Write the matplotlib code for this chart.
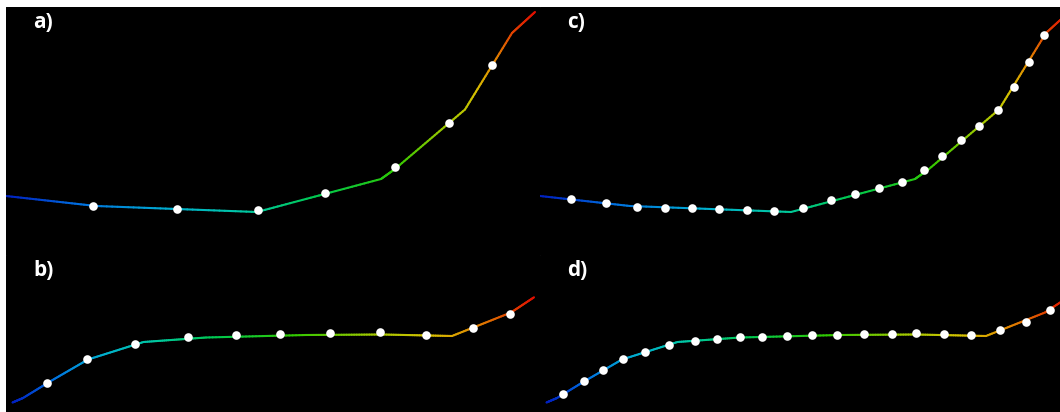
import matplotlib.pyplot as plt
import numpy as np
from matplotlib.collections import LineCollection
from matplotlib.colors import LinearSegmentedColormap

# panel-local coordinates, measured in pixels from each panel's top-left corner
top_curve_x = [0, 90, 251, 375, 389, 459, 506, 529]
top_curve_y = [189, 199, 205, 172, 162, 102.5, 26, 5]

bottom_curve_x = [6.5, 17, 44, 82, 137.5, 200, 300, 376, 446, 505, 528]
bottom_curve_y = [147.5, 143, 126.5, 104.5, 87, 82.5, 80, 79.5, 81, 57.5, 42.3]

a_dots_x = [87, 171, 252, 319, 389, 443, 486]
a_dots_y = [198.7, 202, 203, 185.7, 160, 116.3, 58.3]

c_dots_x = [31.2, 65.7, 96.8, 125.2, 151.9, 178.6, 206.7, 234.1, 262.5, 290.9, 315.2,
            338.9, 361.5, 383.8, 402.1, 421.4, 439, 458.2, 474.1, 489, 503.9]
c_dots_y = [192.3, 196.3, 199.7, 200.7, 201.3, 202.3, 203, 203.7, 201.3, 193, 187,
            181.3, 175.3, 163.3, 149.3, 133, 119, 103.3, 79.7, 54.7, 28.3]

b_dots_x = [40.8, 80.8, 128.6, 181.7, 229.5, 273.6, 324.2, 373.5, 420, 466.8, 504]
b_dots_y = [127.7, 104.3, 88.7, 82.3, 80, 78.7, 78, 77.3, 80, 73, 58.7]

d_dots_x = [22.8, 44.4, 62.7, 82.6, 104.6, 129.3, 155.3, 176.6, 199.6, 222.3, 246.9,
            271.6, 297.3, 324, 352.1, 376.1, 403.8, 430.8, 459.9, 486, 509.6]
d_dots_y = [139, 126.3, 115, 104.3, 97.3, 89.7, 86.3, 84, 82.3, 81.7, 80.7,
            80.3, 79.7, 78.7, 78.7, 78, 78.7, 79.7, 74.7, 66.7, 55]

panel_labels = ["a)", "b)", "c)", "d)"]

W, H = 1060, 412
PANEL_W = 534
TOP_H, BOTTOM_H = 248, 157

cmap = LinearSegmentedColormap.from_list("spectrum", [
    (0.00, "#0020c0"), (0.10, "#0070e0"), (0.22, "#00b0d0"), (0.32, "#00c8a0"),
    (0.42, "#00c850"), (0.55, "#30c800"), (0.68, "#a0c800"), (0.78, "#d8c000"),
    (0.87, "#e08000"), (1.00, "#e01000")])


def gradient_line(ax, xs, ys):
    xs = np.asarray(xs, float)
    ys = np.asarray(ys, float)
    pts = []
    for i in range(len(xs) - 1):
        t = np.linspace(0, 1, 30, endpoint=False)
        pts.append(np.column_stack([xs[i] + t * (xs[i + 1] - xs[i]),
                                    ys[i] + t * (ys[i + 1] - ys[i])]))
    pts.append([[xs[-1], ys[-1]]])
    pts = np.vstack(pts)
    segs = np.stack([pts[:-1], pts[1:]], axis=1)
    # colour runs along the curve length (vertical steps count double)
    step = np.hypot(np.diff(pts[:, 0]), 2 * np.diff(pts[:, 1]))
    s = np.concatenate([[0], np.cumsum(step)])
    frac = (s[:-1] + s[1:]) / 2 / s[-1]
    lc = LineCollection(segs, colors=cmap(frac), linewidths=1.5, capstyle="round")
    ax.add_collection(lc)


fig = plt.figure(figsize=(W / 100, H / 100), dpi=100, facecolor="white")

panels = [
    # label, left px, top px, height, curve, dots
    (panel_labels[0], 6, 7, TOP_H, (top_curve_x, top_curve_y), (a_dots_x, a_dots_y)),
    (panel_labels[1], 6, 7 + TOP_H, BOTTOM_H, (bottom_curve_x, bottom_curve_y), (b_dots_x, b_dots_y)),
    (panel_labels[2], 540, 7, TOP_H, (top_curve_x, top_curve_y), (c_dots_x, c_dots_y)),
    (panel_labels[3], 540, 7 + TOP_H, BOTTOM_H, (bottom_curve_x, bottom_curve_y), (d_dots_x, d_dots_y)),
]

for label, left, top, h, curve, dots in panels:
    w = min(PANEL_W, W - left)
    ax = fig.add_axes([left / W, (H - top - h) / H, w / W, h / H])
    ax.set_facecolor("black")
    ax.set_xlim(0, w)
    ax.set_ylim(h, 0)
    ax.axis("off")
    ax.add_patch(plt.Rectangle((0, 0), w, h, color="black", zorder=0))
    gradient_line(ax, *curve)
    ax.plot(dots[0], dots[1], "o", color="white", markersize=6.2,
            markeredgewidth=0, zorder=3)
    ax.text(27, 5, label, color="white", fontsize=15, fontweight="bold",
            family="Open Sans", ha="left", va="top")

fig.savefig("out.png", dpi=100, facecolor="white")
